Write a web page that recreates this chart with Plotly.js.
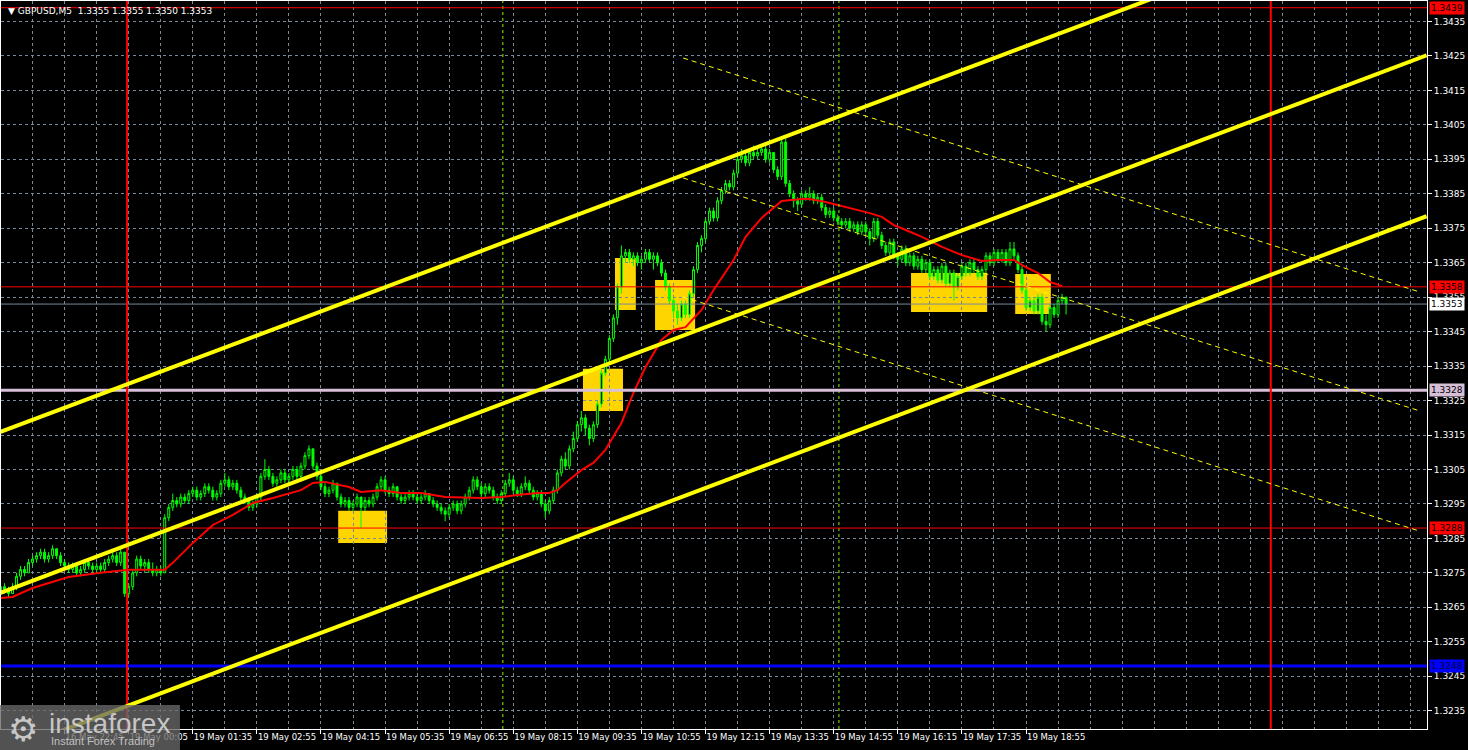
<!DOCTYPE html>
<html><head><meta charset="utf-8">
<script src="https://cdn.plot.ly/plotly-3.0.1.min.js"></script>
<style>html,body{margin:0;padding:0;background:#000;overflow:hidden}#chart{width:1468px;height:750px}</style>
</head><body><div id="chart"></div>
<script>
const symbol = 'GBPUSD,M5';

const opens = [
1.3269,1.3271,1.3270,1.3269,1.3271,1.3274,1.3276,1.3275,1.3278,1.3279,
1.3280,1.3281,1.3279,1.3280,1.3282,1.3280,1.3278,1.3277,1.3276,1.3277,
1.3275,1.3276,1.3278,1.3277,1.3276,1.3277,1.3276,1.3278,1.3279,1.3280,
1.3278,1.3281,1.3269,1.3271,1.3275,1.3279,1.3277,1.3278,1.3276,1.3275,
1.3276,1.3275,1.3291,1.3294,1.3296,1.3295,1.3297,1.3296,1.3298,1.3299,
1.3297,1.3298,1.3300,1.3299,1.3297,1.3298,1.3301,1.3302,1.3300,1.3301,
1.3299,1.3297,1.3296,1.3294,1.3295,1.3297,1.3303,1.3305,1.3303,1.3301,
1.3302,1.3304,1.3302,1.3303,1.3305,1.3303,1.3306,1.3309,1.3311,1.3306,
1.3303,1.3300,1.3298,1.3299,1.3301,1.3297,1.3295,1.3296,1.3294,1.3295,
1.3297,1.3294,1.3296,1.3295,1.3297,1.3300,1.3302,1.3299,1.3298,1.3300,
1.3297,1.3296,1.3297,1.3298,1.3297,1.3296,1.3297,1.3298,1.3296,1.3295,
1.3294,1.3293,1.3292,1.3294,1.3295,1.3293,1.3295,1.3297,1.3299,1.3302,
1.3300,1.3298,1.3300,1.3299,1.3297,1.3296,1.3298,1.3301,1.3302,1.3299,
1.3298,1.3300,1.3301,1.3299,1.3297,1.3298,1.3295,1.3293,1.3296,1.3299,
1.3304,1.3308,1.3306,1.3311,1.3314,1.3318,1.3320,1.3317,1.3314,1.3318,
1.3324,1.3333,1.3337,1.3343,1.3349,1.3358,1.3367,1.3368,1.3366,1.3367,
1.3365,1.3366,1.3368,1.3366,1.3367,1.3365,1.3362,1.3358,1.3354,1.3351,
1.3349,1.3353,1.3350,1.3356,1.3363,1.3370,1.3372,1.3377,1.3380,1.3378,
1.3383,1.3386,1.3388,1.3387,1.3391,1.3395,1.3396,1.3394,1.3397,1.3396,
1.3397,1.3398,1.3395,1.3397,1.3392,1.3390,1.3400,1.3388,1.3385,1.3383,
1.3382,1.3385,1.3384,1.3385,1.3383,1.3384,1.3381,1.3379,1.3380,1.3378,
1.3377,1.3376,1.3377,1.3375,1.3376,1.3374,1.3376,1.3374,1.3372,1.3377,
1.3373,1.3370,1.3368,1.3371,1.3367,1.3366,1.3369,1.3365,1.3367,1.3364,
1.3366,1.3363,1.3365,1.3361,1.3363,1.3360,1.3364,1.3359,1.3362,1.3358,
1.3361,1.3364,1.3362,1.3365,1.3363,1.3361,1.3363,1.3367,1.3365,1.3368,
1.3366,1.3368,1.3365,1.3369,1.3367,1.3363,1.3357,1.3352,1.3354,1.3351,
1.3355,1.3348,1.3347,1.3352,1.3350,1.3354,1.3355];

const highs = [
1.3271,1.3272,1.3271,1.3272,1.3275,1.3277,1.3277,1.3279,1.3280,1.3281,
1.3282,1.3282,1.3281,1.3283,1.3282,1.3281,1.3279,1.3278,1.3278,1.3278,
1.3277,1.3279,1.3279,1.3278,1.3278,1.3278,1.3279,1.3280,1.3281,1.3281,
1.3282,1.3281,1.3272,1.3276,1.3280,1.3280,1.3279,1.3279,1.3278,1.3277,
1.3277,1.3292,1.3295,1.3298,1.3297,1.3298,1.3298,1.3299,1.3300,1.3300,
1.3299,1.3301,1.3301,1.3300,1.3299,1.3302,1.3304,1.3303,1.3302,1.3302,
1.3300,1.3298,1.3297,1.3296,1.3298,1.3304,1.3308,1.3306,1.3304,1.3303,
1.3305,1.3305,1.3304,1.3306,1.3306,1.3307,1.3310,1.3312,1.3311,1.3307,
1.3304,1.3301,1.3300,1.3302,1.3301,1.3298,1.3297,1.3297,1.3296,1.3298,
1.3297,1.3297,1.3297,1.3298,1.3301,1.3303,1.3303,1.3300,1.3301,1.3300,
1.3298,1.3298,1.3299,1.3299,1.3298,1.3298,1.3299,1.3298,1.3297,1.3296,
1.3295,1.3294,1.3295,1.3296,1.3296,1.3296,1.3298,1.3300,1.3303,1.3303,
1.3301,1.3301,1.3301,1.3300,1.3298,1.3299,1.3302,1.3304,1.3303,1.3300,
1.3301,1.3303,1.3302,1.3300,1.3299,1.3299,1.3296,1.3297,1.3300,1.3305,
1.3309,1.3310,1.3312,1.3316,1.3319,1.3322,1.3321,1.3318,1.3319,1.3325,
1.3334,1.3338,1.3344,1.3350,1.3359,1.3370,1.3369,1.3369,1.3368,1.3368,
1.3367,1.3369,1.3369,1.3368,1.3368,1.3366,1.3363,1.3359,1.3355,1.3353,
1.3354,1.3354,1.3357,1.3364,1.3371,1.3373,1.3378,1.3381,1.3381,1.3384,
1.3387,1.3389,1.3389,1.3392,1.3396,1.3398,1.3397,1.3398,1.3399,1.3398,
1.3399,1.3399,1.3398,1.3397,1.3393,1.3401,1.3401,1.3389,1.3386,1.3384,
1.3386,1.3386,1.3387,1.3386,1.3385,1.3385,1.3382,1.3381,1.3381,1.3379,
1.3378,1.3378,1.3378,1.3377,1.3377,1.3377,1.3377,1.3375,1.3378,1.3378,
1.3374,1.3371,1.3372,1.3372,1.3368,1.3370,1.3370,1.3368,1.3368,1.3367,
1.3367,1.3366,1.3366,1.3364,1.3364,1.3365,1.3365,1.3363,1.3363,1.3362,
1.3365,1.3365,1.3366,1.3366,1.3364,1.3364,1.3368,1.3368,1.3369,1.3369,
1.3369,1.3369,1.3371,1.3371,1.3368,1.3364,1.3358,1.3355,1.3355,1.3356,
1.3356,1.3350,1.3353,1.3353,1.3355,1.3356,1.3355];

const lows = [
1.3268,1.3269,1.3268,1.3269,1.3270,1.3273,1.3274,1.3275,1.3277,1.3278,
1.3279,1.3278,1.3278,1.3279,1.3279,1.3277,1.3276,1.3275,1.3275,1.3274,
1.3274,1.3275,1.3276,1.3275,1.3275,1.3275,1.3275,1.3277,1.3278,1.3277,
1.3277,1.3268,1.3268,1.3270,1.3274,1.3276,1.3275,1.3275,1.3274,1.3274,
1.3274,1.3275,1.3290,1.3293,1.3294,1.3294,1.3295,1.3295,1.3297,1.3296,
1.3296,1.3297,1.3298,1.3296,1.3296,1.3297,1.3300,1.3299,1.3299,1.3298,
1.3296,1.3295,1.3293,1.3293,1.3294,1.3296,1.3302,1.3302,1.3300,1.3300,
1.3301,1.3301,1.3301,1.3302,1.3302,1.3302,1.3305,1.3308,1.3305,1.3302,
1.3299,1.3297,1.3297,1.3298,1.3296,1.3294,1.3294,1.3293,1.3293,1.3294,
1.3288,1.3293,1.3294,1.3294,1.3296,1.3299,1.3298,1.3297,1.3297,1.3296,
1.3295,1.3295,1.3296,1.3296,1.3295,1.3295,1.3296,1.3295,1.3294,1.3293,
1.3292,1.3290,1.3291,1.3293,1.3292,1.3292,1.3294,1.3296,1.3298,1.3299,
1.3297,1.3297,1.3298,1.3296,1.3295,1.3295,1.3297,1.3300,1.3298,1.3297,
1.3297,1.3299,1.3298,1.3296,1.3296,1.3294,1.3291,1.3292,1.3295,1.3298,
1.3303,1.3305,1.3305,1.3310,1.3313,1.3316,1.3315,1.3312,1.3313,1.3317,
1.3323,1.3332,1.3336,1.3342,1.3347,1.3356,1.3365,1.3365,1.3364,1.3364,
1.3363,1.3365,1.3365,1.3363,1.3364,1.3361,1.3357,1.3353,1.3349,1.3347,
1.3348,1.3349,1.3349,1.3355,1.3362,1.3368,1.3371,1.3376,1.3377,1.3377,
1.3382,1.3385,1.3386,1.3386,1.3390,1.3394,1.3393,1.3393,1.3395,1.3395,
1.3396,1.3394,1.3394,1.3391,1.3389,1.3389,1.3387,1.3384,1.3381,1.3380,
1.3381,1.3383,1.3383,1.3382,1.3382,1.3380,1.3378,1.3378,1.3377,1.3376,
1.3375,1.3375,1.3374,1.3374,1.3373,1.3373,1.3373,1.3370,1.3371,1.3372,
1.3369,1.3367,1.3367,1.3366,1.3364,1.3365,1.3364,1.3364,1.3363,1.3363,
1.3362,1.3362,1.3360,1.3360,1.3359,1.3359,1.3358,1.3358,1.3354,1.3357,
1.3360,1.3361,1.3361,1.3362,1.3360,1.3360,1.3362,1.3364,1.3364,1.3365,
1.3365,1.3364,1.3364,1.3366,1.3362,1.3356,1.3351,1.3351,1.3350,1.3350,
1.3347,1.3345,1.3346,1.3349,1.3349,1.3353,1.3350];

const closes = [
1.3271,1.3270,1.3269,1.3271,1.3274,1.3276,1.3275,1.3278,1.3279,1.3280,
1.3281,1.3279,1.3280,1.3282,1.3280,1.3278,1.3277,1.3276,1.3277,1.3275,
1.3276,1.3278,1.3277,1.3276,1.3277,1.3276,1.3278,1.3279,1.3280,1.3278,
1.3281,1.3269,1.3271,1.3275,1.3279,1.3277,1.3278,1.3276,1.3275,1.3276,
1.3275,1.3291,1.3294,1.3296,1.3295,1.3297,1.3296,1.3298,1.3299,1.3297,
1.3298,1.3300,1.3299,1.3297,1.3298,1.3301,1.3302,1.3300,1.3301,1.3299,
1.3297,1.3296,1.3294,1.3295,1.3297,1.3303,1.3305,1.3303,1.3301,1.3302,
1.3304,1.3302,1.3303,1.3305,1.3303,1.3306,1.3309,1.3311,1.3306,1.3303,
1.3300,1.3298,1.3299,1.3301,1.3297,1.3295,1.3296,1.3294,1.3295,1.3297,
1.3294,1.3296,1.3295,1.3297,1.3300,1.3302,1.3299,1.3298,1.3300,1.3297,
1.3296,1.3297,1.3298,1.3297,1.3296,1.3297,1.3298,1.3296,1.3295,1.3294,
1.3293,1.3292,1.3294,1.3295,1.3293,1.3295,1.3297,1.3299,1.3302,1.3300,
1.3298,1.3300,1.3299,1.3297,1.3296,1.3298,1.3301,1.3302,1.3299,1.3298,
1.3300,1.3301,1.3299,1.3297,1.3298,1.3295,1.3293,1.3296,1.3299,1.3304,
1.3308,1.3306,1.3311,1.3314,1.3318,1.3320,1.3317,1.3314,1.3318,1.3324,
1.3333,1.3337,1.3343,1.3349,1.3358,1.3367,1.3368,1.3366,1.3367,1.3365,
1.3366,1.3368,1.3366,1.3367,1.3365,1.3362,1.3358,1.3354,1.3351,1.3349,
1.3353,1.3350,1.3356,1.3363,1.3370,1.3372,1.3377,1.3380,1.3378,1.3383,
1.3386,1.3388,1.3387,1.3391,1.3395,1.3396,1.3394,1.3397,1.3396,1.3397,
1.3398,1.3395,1.3397,1.3392,1.3390,1.3400,1.3388,1.3385,1.3383,1.3382,
1.3385,1.3384,1.3385,1.3383,1.3384,1.3381,1.3379,1.3380,1.3378,1.3377,
1.3376,1.3377,1.3375,1.3376,1.3374,1.3376,1.3374,1.3372,1.3377,1.3373,
1.3370,1.3368,1.3371,1.3367,1.3366,1.3369,1.3365,1.3367,1.3364,1.3366,
1.3363,1.3365,1.3361,1.3363,1.3360,1.3364,1.3359,1.3362,1.3358,1.3361,
1.3364,1.3362,1.3365,1.3363,1.3361,1.3363,1.3367,1.3365,1.3368,1.3366,
1.3368,1.3365,1.3369,1.3367,1.3363,1.3357,1.3352,1.3354,1.3351,1.3355,
1.3348,1.3347,1.3352,1.3350,1.3354,1.3355,1.3353];

// moving average read at selected bars
const maBars = [0,3,8,17,25,32,41,43,48,53,58,63,68,75,78,81,87,90,95,100,105,111,120,125,129,134,137,139,141,145,148,151,155,158,161,165,168,171,175,178,183,186,190,193,195,200,202,206,211,217,220,223,226,230,235,240,245,249,253,255,259,262,265];
const maValues = [1.32677,1.32680,1.32706,1.32738,1.32750,1.32759,1.32759,1.32779,1.32837,1.32889,1.32918,1.32953,1.32967,1.32990,1.33011,1.33014,1.32999,1.32985,1.32990,1.32982,1.32982,1.32970,1.32967,1.32970,1.32976,1.32982,1.32982,1.32990,1.33011,1.33048,1.33069,1.33107,1.33185,1.33272,1.33347,1.33426,1.33455,1.33463,1.33513,1.33571,1.33658,1.33725,1.33780,1.33809,1.33829,1.33835,1.33835,1.33826,1.33812,1.33794,1.33783,1.33759,1.33745,1.33725,1.33696,1.33672,1.33655,1.33658,1.33658,1.33643,1.33620,1.33594,1.33582];

const timeTickBars = [0,16,32,48,64,80,96,112,128,144,160,176,192,208,224,240,256];
const timeTickLabels = ['16 May 2025','16 May 22:45','19 May 00:05','19 May 01:35','19 May 02:55','19 May 04:15','19 May 05:35','19 May 06:55','19 May 08:15','19 May 09:35','19 May 10:55','19 May 12:15','19 May 13:35','19 May 14:55','19 May 16:15','19 May 17:35','19 May 18:55'];
const priceTicks = [1.3235,1.3245,1.3255,1.3265,1.3275,1.3285,1.3295,1.3305,1.3315,1.3325,1.3335,1.3345,1.3355,1.3365,1.3375,1.3385,1.3395,1.3405,1.3415,1.3425,1.3435];

const redLevels = [1.3439, 1.3358, 1.3288];
const lilacLevel = 1.3328;
const blueLevel = 1.3248;
const redVerticalBars = [31.6, 317.1];
const limeVerticalBars = [125.4, 209.3];

const zoneStart = [84.3,145.4,153.4,163.4,227.3,253.3];
const zoneEnd   = [96.5,155.4,158.6,173.4,246.3,262.2];
const zoneLow   = [1.32837,1.33220,1.33513,1.33455,1.33507,1.33501];
const zoneHigh  = [1.32930,1.33342,1.33664,1.33600,1.33620,1.33617];

const channelBar0 = [0,0,0];
const channelPrice0 = [1.33159,1.32692,1.32225];
const channelBar1 = [356,356,356];
const channelPrice1 = [1.34716,1.34252,1.33785];

const dashBar0 = [170.4,170.4,170.4];
const dashPrice0 = [1.34244,1.33896,1.33551];
const dashBar1 = [354.3,354.3,354.3];
const dashPrice1 = [1.33565,1.33220,1.32871];

const barIndex = opens.map((_, i) => i);
const last = opens.length - 1;
const bidLevel = closes[last];

const FONT = 'DejaVu Sans, Verdana, sans-serif';
const GRID = 'rgb(119,136,153)';

const shapes = [];
for (let i = 0; i < zoneStart.length; i++) {
  shapes.push({type:'rect', xref:'x', yref:'y', x0:zoneStart[i], x1:zoneEnd[i], y0:zoneLow[i], y1:zoneHigh[i],
    fillcolor:'#ffd500', line:{width:0}, layer:'below'});
}
function hline(v, color, w, dash) {
  shapes.push({type:'line', xref:'paper', yref:'y', x0:0, x1:1, y0:v, y1:v, line:{color:color, width:w, dash:dash||'solid'}, layer:'above'});
}
function vline(b, color, w, dash) {
  shapes.push({type:'line', xref:'x', yref:'paper', x0:b, x1:b, y0:0, y1:1, line:{color:color, width:w, dash:dash||'solid'}, layer:'above'});
}
limeVerticalBars.forEach(b => vline(b, '#7cfc00', 1, '3px,3px'));
hline(bidLevel, 'rgb(119,136,153)', 1);
hline(lilacLevel, '#d8bfd8', 3);
hline(blueLevel, '#0000ff', 3);
redLevels.forEach(v => hline(v, '#ff0000', 1));
redVerticalBars.forEach(b => vline(b, '#ff0000', 2));
for (let i = 0; i < channelBar0.length; i++) {
  shapes.push({type:'line', xref:'x', yref:'y', x0:channelBar0[i], x1:channelBar1[i], y0:channelPrice0[i], y1:channelPrice1[i],
    line:{color:'#ffff00', width:4}, layer:'above'});
}
for (let i = 0; i < dashBar0.length; i++) {
  shapes.push({type:'line', xref:'x', yref:'y', x0:dashBar0[i], x1:dashBar1[i], y0:dashPrice0[i], y1:dashPrice1[i],
    line:{color:'#ffff00', width:1, dash:'5px,4px'}, layer:'above'});
}
// watermark panel
shapes.push({type:'rect', xref:'paper', yref:'paper', x0:-0.001, x1:0.1255, y0:-0.03, y1:0.033,
  fillcolor:'rgba(105,105,105,0.78)', line:{width:0}, layer:'above'});

const annotations = [];
function priceTag(v, bg, fg) {
  annotations.push({xref:'paper', yref:'y', x:1, y:v, xanchor:'left', yanchor:'middle', xshift:2,
    text:v.toFixed(4), showarrow:false, bgcolor:bg, borderpad:1, font:{family:FONT, size:9, color:fg}});
}
redLevels.forEach(v => priceTag(v, '#ff0000', '#000000'));
priceTag(lilacLevel, '#d8bfd8', '#000000');
priceTag(blueLevel, '#0000ff', '#000033');
priceTag(bidLevel, '#ffffff', '#000000');

annotations.push({xref:'paper', yref:'paper', x:0, y:1, xanchor:'left', yanchor:'top', xshift:5, yshift:-3,
  text:'▼ ' + symbol + '  ' + [opens[last], highs[last], lows[last], closes[last]].map(v => v.toFixed(4)).join(' '),
  showarrow:false, font:{family:FONT, size:9, color:'#ffffff'}});

annotations.push({xref:'paper', yref:'paper', x:0.0035, y:0.0, xanchor:'left', yanchor:'middle', yshift:0,
  text:'⚙', showarrow:false, font:{family:'DejaVu Sans', size:34, color:'rgba(220,220,220,0.85)'}});
annotations.push({xref:'paper', yref:'paper', x:0.032, y:0.0082, xanchor:'left', yanchor:'middle',
  text:'instaforex', showarrow:false, font:{family:'Liberation Sans, Arial, sans-serif', size:28, color:'rgba(220,220,220,0.85)'}});
annotations.push({xref:'paper', yref:'paper', x:0.034, y:-0.0165, xanchor:'left', yanchor:'middle',
  text:'Instant Forex Trading', showarrow:false, font:{family:'Liberation Sans, Arial, sans-serif', size:11, color:'rgba(215,215,215,0.85)'}});

const traces = [
  {type:'candlestick', x:barIndex, open:opens, high:highs, low:lows, close:closes,
   increasing:{line:{color:'#00ff00', width:1}, fillcolor:'#000000'},
   decreasing:{line:{color:'#00ff00', width:1}, fillcolor:'#00ff00'},
   whiskerwidth:0, hoverinfo:'skip', showlegend:false},
  {type:'scatter', mode:'lines', x:maBars, y:maValues, line:{color:'#ff0000', width:2}, hoverinfo:'skip', showlegend:false}
];

const layout = {
  width:1468, height:750,
  margin:{l:1, r:41, t:1, b:21, pad:0},
  paper_bgcolor:'#000000', plot_bgcolor:'#000000',
  showlegend:false,
  xaxis:{range:[0.125, 356.1], rangeslider:{visible:false}, tickmode:'array', tickvals:timeTickBars, ticktext:timeTickLabels,
    ticks:'outside', ticklen:4, tickcolor:'#ffffff', ticklabelposition:'outside right', tickangle:0,
    tickfont:{family:FONT, size:8.5, color:'#ffffff'},
    showgrid:true, gridcolor:GRID, griddash:'3px,3px', gridwidth:1,
    minor:{tick0:0, dtick:8, showgrid:true, gridcolor:GRID, griddash:'3px,3px', gridwidth:1},
    showline:true, linecolor:'#ffffff', linewidth:1, mirror:true, zeroline:false, automargin:false, fixedrange:true},
  yaxis:{range:[1.322969, 1.344095], side:'right', tickmode:'array', tickvals:priceTicks, ticktext:priceTicks.map(v => v.toFixed(4)),
    ticks:'outside', ticklen:4, tickcolor:'#ffffff', tickfont:{family:FONT, size:9, color:'#ffffff'},
    showgrid:true, gridcolor:GRID, griddash:'3px,3px', gridwidth:1,
    showline:true, linecolor:'#ffffff', linewidth:1, mirror:true, zeroline:false, automargin:false, fixedrange:true},
  shapes:shapes,
  annotations:annotations
};

Plotly.newPlot('chart', traces, layout, {staticPlot:true, displayModeBar:false});
</script>
</body></html>
